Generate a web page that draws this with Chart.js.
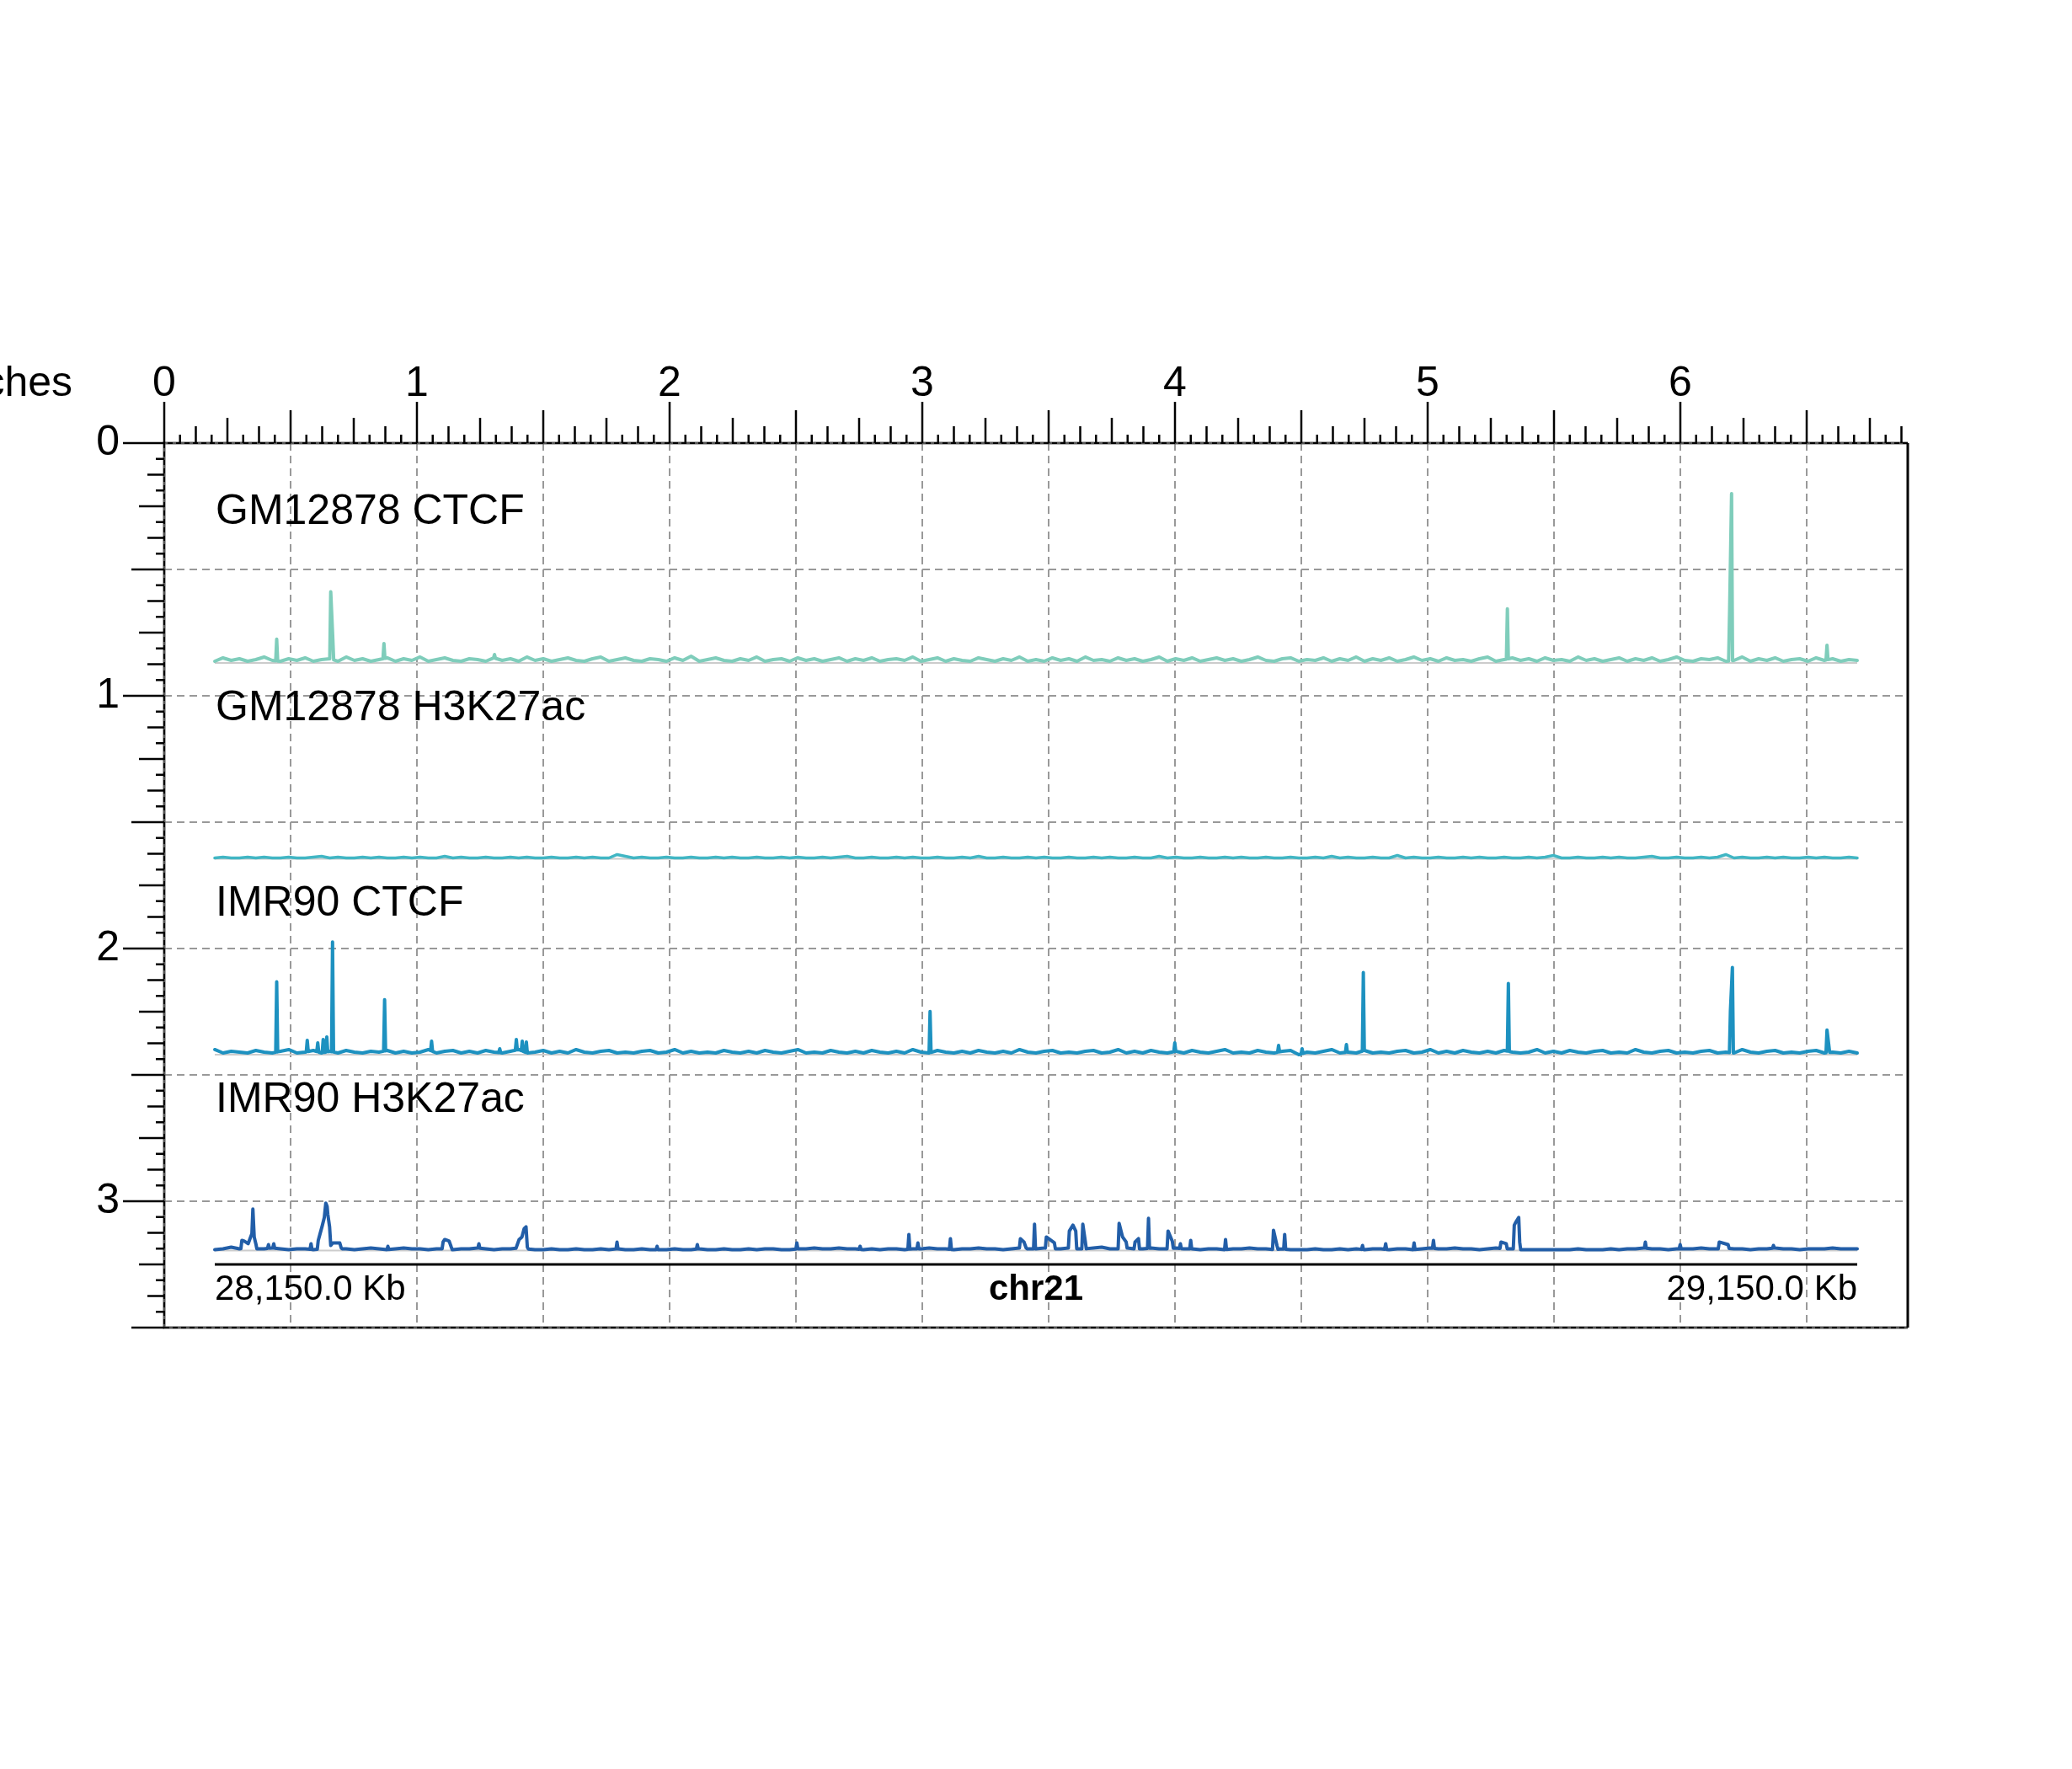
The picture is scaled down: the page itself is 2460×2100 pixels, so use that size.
<!DOCTYPE html>
<html>
<head>
    <meta charset="UTF-8">
    <title>chr21 signal tracks</title>
    <!-- Chart.js draws the page: rulers, guides and the four signal tracks -->
    <script src="https://cdn.jsdelivr.net/npm/chart.js"></script>
    <style>
        body { margin: 0; background: #fff; }
        canvas { display: block; }
    </style>
</head>
<body>
    <canvas id="page" width="2460" height="2100"></canvas>

    <script>
        // ---- region shown ----
        const chromName = 'chr21';
        const regionStartKb = 28150;
        const regionEndKb = 29150;
        const binKb = 5;
        const regionLabels = ['28,150.0 Kb', '29,150.0 Kb'];

        // ---- tracks ----
        const trackNames = ['GM12878 CTCF', 'GM12878 H3K27ac', 'IMR90 CTCF', 'IMR90 H3K27ac'];
        const trackColors = ['#7fcdbb', '#41b6c4', '#1d91c0', '#225ea8'];
        const trackLineWidths = [4, 3.5, 4, 4];
        const signalRange = [0, 200];

        // background signal, one value per 5 kb bin (201 bins)
        const gmCtcfBg = [
            2,6,3,5,2,4,7,3,2,5, 3,6,2,4,5,2,7,3,5,2,
            4,6,2,5,3,7,2,4,6,3, 2,5,4,2,6,3,5,2,7,3,
            5,2,4,6,3,2,5,7,2,4, 6,3,2,5,4,2,6,3,8,2,
            4,6,3,2,5,3,7,2,4,5, 2,6,3,5,2,4,6,2,5,3,
            6,2,4,5,3,7,2,4,6,2, 5,3,2,6,4,2,5,3,7,2,
            4,2,6,3,5,2,7,3,4,2, 6,3,5,2,4,7,2,5,3,6,
            2,4,6,3,5,2,4,7,3,2, 5,6,2,4,3,6,2,5,3,7,
            2,5,3,6,2,4,7,3,5,2, 6,3,4,2,5,7,2,4,6,3,
            5,2,6,3,4,2,7,3,5,2, 4,6,2,5,3,6,2,4,7,3,
            2,5,4,6,2,3,7,2,5,3, 6,2,4,5,2,6,3,5,2,4,
            3
        ];
        const gmH3k27acBg = [
            1,2,1,1,2,1,2,1,1,2, 1,1,2,3,1,2,1,1,2,1,
            2,1,1,2,1,2,1,1,3,1, 2,1,1,2,1,1,2,1,2,1,
            1,2,1,1,2,1,2,1,1,5, 3,1,2,1,1,2,1,1,2,1,
            1,2,1,2,1,1,2,1,1,2, 1,2,1,1,2,1,2,3,1,1,
            2,1,1,2,1,2,1,1,2,1, 1,2,1,3,1,1,2,1,1,2,
            1,2,1,1,2,1,1,2,1,2, 1,1,2,1,1,3,1,2,1,1,
            2,1,1,2,1,2,1,1,2,1, 1,2,1,1,2,1,3,1,2,1,
            1,2,1,1,4,1,2,1,1,2, 1,1,2,1,2,1,1,2,1,1,
            2,1,2,4,1,1,2,1,1,2, 1,2,1,1,2,3,1,1,2,1,
            1,2,1,2,5,1,2,1,1,2, 1,2,1,1,2,1,2,1,1,2,
            1
        ];
        const imrCtcfBg = [
            6,2,4,3,2,5,3,2,4,6, 2,3,5,2,4,2,5,3,2,4,
            3,5,2,4,2,3,6,2,4,5, 2,4,2,5,3,2,4,6,2,3,
            5,2,4,2,6,3,2,4,5,2, 3,2,4,5,2,3,6,2,4,2,
            3,2,5,3,2,4,2,5,3,2, 4,6,2,3,2,5,3,2,4,2,
            5,3,2,4,2,6,3,2,5,3, 2,4,2,5,3,2,4,2,6,3,
            2,4,5,2,3,2,4,5,2,3, 6,2,4,2,5,3,2,4,2,5,
            3,2,4,6,2,3,2,5,3,2, 4,5,0,3,2,4,6,2,3,2,
            5,2,3,2,4,5,2,3,6,2, 4,2,5,3,2,4,2,5,3,2,
            3,6,2,4,2,5,3,2,4,5, 2,3,2,6,3,2,4,5,2,3,
            2,4,5,2,3,2,6,3,2,4, 5,2,3,2,4,5,2,3,2,4,
            2
        ];
        const imrH3k27acBg = [
            1,2,4,2,3,2,2,3,2,1, 2,2,1,2,3,2,2,1,2,3,
            2,1,2,3,2,2,1,2,2,1, 2,2,3,2,1,2,2,3,2,1,
            1,2,1,1,2,1,1,2,1,2, 1,1,2,1,1,1,2,1,1,2,
            1,1,2,1,1,2,1,2,2,1, 1,2,2,3,2,2,3,2,2,1,
            2,1,2,2,1,2,2,3,2,2, 1,2,2,3,2,2,1,2,3,2,
            2,3,2,2,3,2,2,3,4,2, 2,3,2,2,3,2,2,3,2,2,
            1,2,2,1,2,2,3,2,2,1, 2,1,1,1,2,1,1,2,1,2,
            1,2,2,1,2,2,1,2,3,2, 2,3,2,2,1,2,3,2,2,1,
            1,1,1,1,1,1,2,1,1,1, 2,1,2,2,3,2,2,1,2,2,
            2,3,2,2,3,2,2,1,2,2, 3,2,2,1,2,2,2,3,2,2,
            2
        ];

        // peaks: each entry is one peak shape, a list of [position kb, signal]
        const gmCtcfPeaks = [
            [[28187.7, 28]], [[28220.6, 84], [28221.8, 32]], [[28253.0, 23]], [[28320.3, 10]],
            [[28937.0, 64]], [[29072.3, 61], [29073.5, 200]], [[29131.6, 21]]
        ];
        const gmH3k27acPeaks = [];
        const imrCtcfPeaks = [
            [[28187.7, 86]], [[28206.3, 17]], [[28212.7, 14]], [[28216.0, 18]], [[28218.2, 21]],
            [[28221.7, 133]], [[28253.4, 65]], [[28282.0, 16]], [[28323.5, 7]], [[28333.6, 18]],
            [[28337.2, 16]], [[28339.7, 15]], [[28585.5, 51]], [[28734.5, 14]], [[28797.7, 11]],
            [[28812.0, 7]], [[28839.0, 12]], [[28849.3, 97]], [[28937.6, 84]],
            [[29072.8, 52], [29074.0, 103]], [[29131.6, 29], [29132.6, 13]]
        ];
        const imrH3k27acPeaks = [
            [[28166.5, 12], [28168.0, 11], [28170.3, 8], [28172.6, 20], [28173.2, 49], [28174.0, 16], [28175.0, 8]],
            [[28182.7, 7]], [[28185.9, 8]], [[28208.6, 8]],
            [[28213.0, 12], [28214.0, 19], [28215.4, 29], [28216.7, 39], [28217.6, 56], [28218.4, 52], [28218.8, 43],
             [28219.9, 28], [28220.6, 6], [28221.8, 9], [28223.0, 9], [28224.0, 9], [28226.1, 9], [28227.0, 3]],
            [[28255.4, 5]],
            [[28289.0, 10], [28290.0, 13], [28291.5, 12], [28292.7, 11], [28294.0, 4]],
            [[28310.8, 8]],
            [[28334.0, 6], [28335.3, 13], [28337.0, 16], [28338.4, 26], [28339.5, 28], [28340.3, 4]],
            [[28394.9, 10]], [[28419.3, 5]], [[28443.8, 7]], [[28504.4, 9]], [[28542.9, 5]],
            [[28572.6, 19]], [[28578.1, 9]], [[28597.9, 14]],
            [[28640.5, 14], [28642.7, 10], [28644.0, 3]],
            [[28649.1, 31]],
            [[28656.3, 16], [28659.1, 12], [28661.2, 9]],
            [[28670.3, 23], [28672.5, 30], [28674.2, 23]],
            [[28678.5, 31], [28680.0, 11]],
            [[28700.6, 32], [28702.7, 16], [28704.9, 10]],
            [[28710.3, 10], [28712.4, 14]],
            [[28718.5, 38]],
            [[28730.4, 23], [28733.0, 11]],
            [[28737.9, 8]], [[28744.2, 12]], [[28765.4, 13]],
            [[28794.6, 24], [28796.7, 6]], [[28801.4, 19]],
            [[28848.8, 6]], [[28862.9, 8]], [[28880.2, 9]], [[28892.0, 12]],
            [[28933.1, 10], [28936.3, 8]],
            [[28941.2, 30], [28942.0, 33], [28943.9, 39], [28944.5, 10]],
            [[29021.0, 10]], [[29042.2, 7]], [[29066.0, 10], [29071.4, 7]], [[29099.0, 6]]
        ];

        const trackBg = [gmCtcfBg, gmH3k27acBg, imrCtcfBg, imrH3k27acBg];
        const trackPeaks = [gmCtcfPeaks, gmH3k27acPeaks, imrCtcfPeaks, imrH3k27acPeaks];

        // ---- page layout (inches) ----
        const pageWidthIn = 6.9;
        const pageHeightIn = 3.5;
        const trackXIn = 0.2;
        const trackWidthIn = 6.5;
        const trackTopIn = [0.2, 0.975, 1.75, 2.525];
        const trackHeightIn = 0.67;
        const genomeAxisIn = 3.25;
        const genomeLabelIn = 3.39;
        const guideStepIn = 0.5;

        Chart.defaults.font.family = "'Liberation Sans', Arial, sans-serif";

        // signal points: background bins + peak shapes (with a short foot each side)
        function buildPoints(bg, peaks) {
            const bgAt = kb => {
                const f = (kb - regionStartKb) / binKb;
                const i = Math.max(0, Math.min(Math.floor(f), bg.length - 2));
                const t = f - i;
                return bg[i] * (1 - t) + bg[i + 1] * t;
            };
            const foot = 0.6;
            const spans = peaks.map(s => [s[0][0] - foot, s[s.length - 1][0] + foot]);
            const pts = [];
            bg.forEach((v, i) => {
                const kb = regionStartKb + i * binKb;
                if (!spans.some(sp => kb >= sp[0] && kb <= sp[1])) pts.push({ x: kb, y: v });
            });
            peaks.forEach((shape, n) => {
                pts.push({ x: spans[n][0], y: bgAt(spans[n][0]) });
                shape.forEach(p => pts.push({ x: p[0], y: p[1] }));
                pts.push({ x: spans[n][1], y: bgAt(spans[n][1]) });
            });
            pts.sort((a, b) => a.x - b.x);
            return pts;
        }

        // genome scale spans the whole page width
        const kbPerIn = (regionEndKb - regionStartKb) / trackWidthIn;
        const scales = {
            x: {
                type: 'linear', display: false,
                min: regionStartKb - trackXIn * kbPerIn,
                max: regionStartKb + (pageWidthIn - trackXIn) * kbPerIn
            },
            pageX: {
                type: 'linear', position: 'top', min: 0, max: pageWidthIn,
                ticks: { display: false },
                afterBuildTicks: s => {
                    s.ticks = [];
                    for (let v = guideStepIn; v < pageWidthIn; v += guideStepIn) s.ticks.push({ value: v });
                },
                grid: { drawTicks: false, color: '#999999', lineWidth: 2 },
                border: { display: false, dash: [9, 6] }
            },
            pageY: {
                type: 'linear', position: 'left', reverse: true, min: 0, max: pageHeightIn,
                ticks: { display: false },
                afterBuildTicks: s => {
                    s.ticks = [];
                    for (let v = guideStepIn; v < pageHeightIn; v += guideStepIn) s.ticks.push({ value: v });
                },
                grid: { drawTicks: false, color: '#999999', lineWidth: 2 },
                border: { display: false, dash: [9, 6] }
            }
        };

        // one hidden value scale per track, placed so 0 sits on the track baseline
        const datasets = [];
        trackNames.forEach((name, i) => {
            const base = trackTopIn[i] + trackHeightIn;
            const perIn = (signalRange[1] - signalRange[0]) / trackHeightIn;
            scales['t' + i] = {
                type: 'linear', display: false,
                min: signalRange[0] - (pageHeightIn - base) * perIn,
                max: signalRange[0] + base * perIn
            };
            datasets.push({
                label: name,
                data: buildPoints(trackBg[i], trackPeaks[i]),
                xAxisID: 'x',
                yAxisID: 't' + i,
                borderColor: trackColors[i],
                borderWidth: trackLineWidths[i],
                borderJoinStyle: 'round',
                borderCapStyle: 'round',
                pointRadius: 0,
                tension: 0,
                fill: false
            });
        });

        function rulerTick(k) {
            if (k % 16 === 0) return 49;
            if (k % 8 === 0) return 39;
            if (k % 4 === 0) return 30;
            if (k % 2 === 0) return 20;
            return 10;
        }

        const pagePlugin = {
            id: 'pageDecor',
            beforeDatasetsDraw(chart) {
                const ctx = chart.ctx;
                const x = chart.scales.x;
                ctx.save();
                ctx.strokeStyle = '#cccccc';
                ctx.lineWidth = 2;
                trackNames.forEach((n, i) => {
                    const y = chart.scales['t' + i].getPixelForValue(0);
                    ctx.beginPath();
                    ctx.moveTo(x.getPixelForValue(regionStartKb), y);
                    ctx.lineTo(x.getPixelForValue(regionEndKb), y);
                    ctx.stroke();
                });
                ctx.restore();
            },
            afterDatasetsDraw(chart) {
                const ctx = chart.ctx;
                const x = chart.scales.x;
                const px = chart.scales.pageX;
                const py = chart.scales.pageY;
                const area = chart.chartArea;
                ctx.save();

                // track labels
                ctx.fillStyle = '#000';
                ctx.font = "50px 'Liberation Sans'";
                ctx.textAlign = 'left';
                ctx.textBaseline = 'alphabetic';
                trackNames.forEach((n, i) => {
                    ctx.fillText(n, px.getPixelForValue(trackXIn) + 1, py.getPixelForValue(trackTopIn[i] + 0.12));
                });

                // genome axis
                const gx0 = x.getPixelForValue(regionStartKb);
                const gx1 = x.getPixelForValue(regionEndKb);
                const gy = py.getPixelForValue(genomeAxisIn);
                ctx.strokeStyle = '#000';
                ctx.lineWidth = 3;
                ctx.beginPath();
                ctx.moveTo(gx0, gy);
                ctx.lineTo(gx1, gy);
                ctx.stroke();
                const ly = py.getPixelForValue(genomeLabelIn);
                ctx.font = "42px 'Liberation Sans'";
                ctx.textAlign = 'left';
                ctx.fillText(regionLabels[0], gx0, ly);
                ctx.textAlign = 'right';
                ctx.fillText(regionLabels[1], gx1, ly);
                ctx.font = "bold 42px 'Liberation Sans'";
                ctx.textAlign = 'center';
                ctx.fillText(chromName, (gx0 + gx1) / 2, ly);

                // page border
                ctx.strokeStyle = '#555';
                ctx.lineWidth = 3;
                ctx.beginPath();
                ctx.moveTo(area.right, area.top);
                ctx.lineTo(area.left, area.top);
                ctx.lineTo(area.left, area.bottom);
                ctx.lineTo(area.right, area.bottom);
                ctx.stroke();
                ctx.strokeStyle = '#000';
                ctx.lineWidth = 2;
                ctx.setLineDash([6, 4]);
                ctx.stroke();
                ctx.setLineDash([]);
                ctx.lineWidth = 3;
                ctx.beginPath();
                ctx.moveTo(area.right, area.top);
                ctx.lineTo(area.right, area.bottom);
                ctx.stroke();

                // rulers
                ctx.lineWidth = 2.5;
                ctx.beginPath();
                for (let k = 0; k / 16 <= pageWidthIn; k++) {
                    const tx = px.getPixelForValue(k / 16);
                    ctx.moveTo(tx, area.top);
                    ctx.lineTo(tx, area.top - rulerTick(k));
                }
                for (let k = 0; k / 16 <= pageHeightIn; k++) {
                    const ty = py.getPixelForValue(k / 16);
                    ctx.moveTo(area.left, ty);
                    ctx.lineTo(area.left - rulerTick(k), ty);
                }
                ctx.stroke();

                ctx.font = "50px 'Liberation Sans'";
                ctx.textAlign = 'center';
                ctx.textBaseline = 'alphabetic';
                for (let i = 0; i <= Math.floor(pageWidthIn); i++) {
                    ctx.fillText(String(i), px.getPixelForValue(i), area.top - 56);
                }
                ctx.textAlign = 'right';
                ctx.fillText('inches', area.left - 109, area.top - 56);
                ctx.textBaseline = 'middle';
                for (let i = 0; i <= Math.floor(pageHeightIn); i++) {
                    ctx.fillText(String(i), area.left - 53, py.getPixelForValue(i));
                }
                ctx.restore();
            }
        };

        const pageChart = new Chart(document.getElementById('page').getContext('2d'), {
            type: 'line',
            data: { datasets: datasets },
            options: {
                responsive: false,
                animation: false,
                devicePixelRatio: 1,
                layout: { padding: { left: 195, top: 526, right: 195, bottom: 524 } },
                plugins: { legend: { display: false }, tooltip: { enabled: false } },
                scales: scales
            },
            plugins: [pagePlugin]
        });
    </script>
</body>
</html>
